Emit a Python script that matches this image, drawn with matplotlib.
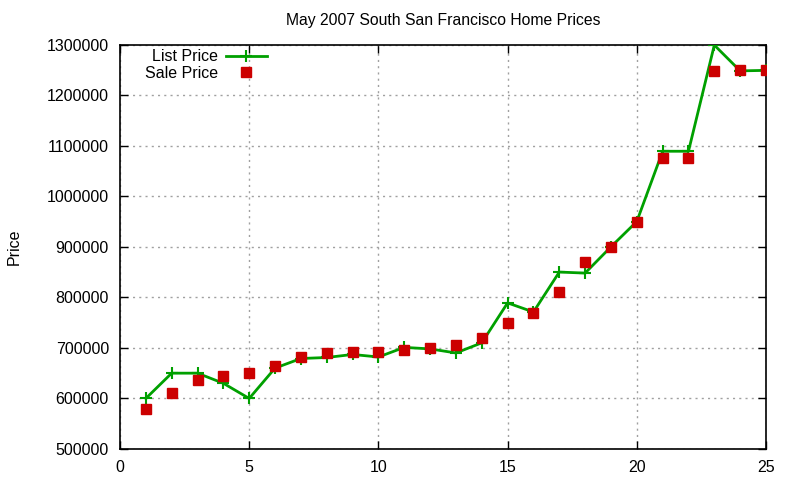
import matplotlib
matplotlib.use("Agg")
import matplotlib.pyplot as plt
from matplotlib.ticker import MultipleLocator

plt.rcParams['font.family'] = ['Liberation Sans', 'DejaVu Sans']

# data
homes = list(range(1, 26))
list_price = [600000, 650000, 650000, 630000, 600000, 660000, 679000, 681000, 687000, 682000,
              701000, 698000, 690000, 710000, 789000, 771000, 850000, 848000, 900000, 950000,
              1089000, 1089000, 1299000, 1248000, 1249000]
sale_price = [580000, 611000, 637000, 645000, 651000, 665000, 681000, 689000, 691000, 692000,
              695000, 699000, 705000, 720000, 750000, 770000, 811000, 870000, 900000, 950000,
              1075000, 1075000, 1248000, 1250000, 1250000]

fig = plt.figure(figsize=(8, 4.8), dpi=100)
ax = fig.add_axes([0.15, 0.0646, 0.8075, 0.8425])

ax.plot(homes, list_price, color='#00a000', lw=2, marker='+', ms=9, mew=1.5,
        label='List Price', zorder=3)
ax.plot(homes, sale_price, ls='none', color='#cc0000', marker='s', ms=6.5,
        label='Sale Price', zorder=4)

ax.set_xlim(0, 25)
ax.set_ylim(500000, 1300000)
ax.xaxis.set_major_locator(MultipleLocator(5))
ax.yaxis.set_major_locator(MultipleLocator(100000))
ax.ticklabel_format(style='plain', axis='y')

ax.grid(True, color='#a0a0a0', ls=(0, (1.5, 3)), lw=1)
ax.tick_params(direction='in', top=True, right=True, length=6, width=1,
               labelsize=11.5, pad=8, colors='black')
for s in ax.spines.values():
    s.set_linewidth(1.2)

ax.set_title('May 2007 South San Francisco Home Prices', fontsize=11.3, pad=14)
ax.set_ylabel('Price', fontsize=11.5, labelpad=18)

ax.legend(loc='upper left', bbox_to_anchor=(0.038, 0.988), frameon=False,
          markerfirst=False, handlelength=2.6, fontsize=11.5, labelspacing=0.08,
          borderaxespad=0, borderpad=0, handletextpad=0.5)

fig.savefig('out.png', dpi=100)
